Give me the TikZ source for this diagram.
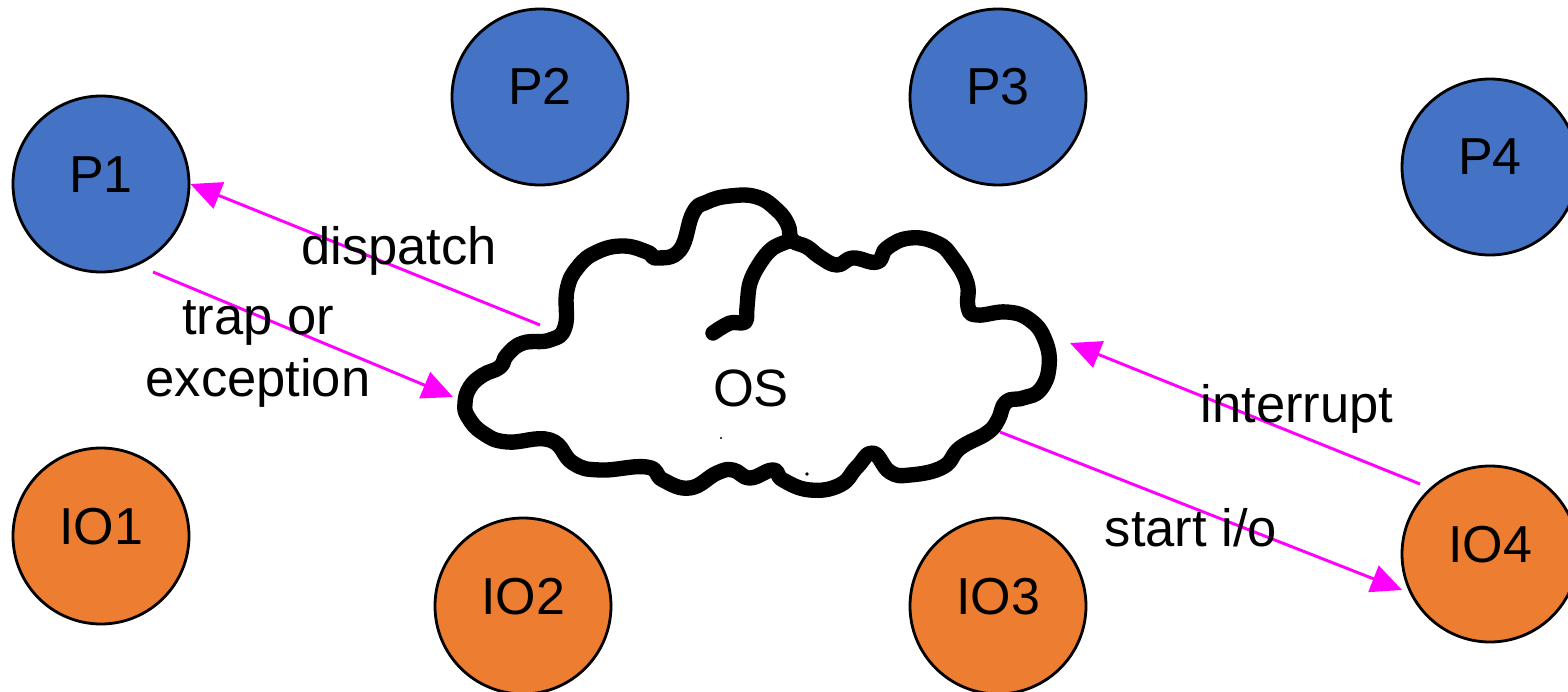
\documentclass[tikz,border=0pt]{standalone}
\usepackage{fontspec}
\setmainfont{Liberation Sans}
\usepackage{xcolor}
\usetikzlibrary{arrows.meta}
\definecolor{procblue}{HTML}{4472C4}
\definecolor{ioorange}{HTML}{ED7D31}
\definecolor{flowpink}{HTML}{FF00FF}
\tikzset{
  circ/.style={circle, draw=black, line width=2.1pt, minimum size=132pt, inner sep=0pt,
    font=\fontsize{39}{44}\selectfont, text height=24pt, text depth=12pt},
  proc/.style={circ, fill=procblue},
  iodev/.style={circ, fill=ioorange},
  flow/.style={-{Triangle[length=23pt,width=21pt]}, flowpink, line width=2.2pt},
  lbl/.style={font=\fontsize{39.4}{47}\selectfont, align=center, inner sep=0pt},
  cloudline/.style={line width=11.5pt, line join=round, line cap=round}
}

\begin{document}
\begin{tikzpicture}[x=0.75pt, y=-0.75pt]
  \useasboundingbox (0,0) rectangle (1568,692);
  % Cloud
  \draw[cloudline] plot[smooth cycle, tension=0.75] coordinates {
    (465,403) (470,387) (483,375) (500,367) (507,355) (523,343) (550,340) (565,327)
    (567,290) (578,267) (597,252) (623,246) (647,252) (657,258) (680,250)
    (693,213) (707,202) (730,196) (757,197) (777,210) (788,225) (792,240)
    (807,247) (820,257) (837,265) (853,258) (877,262) (887,248) (910,238) (937,243)
    (953,258) (967,283) (968,307) (977,315) (1007,312) (1030,320) (1045,340) (1049,367)
    (1040,390) (1023,398) (1006,402) (998,420) (987,433) (960,448) (943,467) (910,475)
    (890,472) (873,453) (857,467) (840,485) (810,490) (783,480) (773,470) (750,478)
    (733,470) (717,473) (690,488) (663,480) (647,467) (600,470) (573,463) (550,440)
    (507,442) (483,433) (468,417)};
  \draw[cloudline] plot[smooth, tension=0.6] coordinates {
    (792,240) (773,248) (760,263) (750,283) (747,307) (745,322) (730,323) (713,333)};
  \fill (721,438) circle (0.8pt);
  \fill (807,474) circle (1.4pt);
  % Processes
  \node[proc] (p1) at (101,184) {P1};
  \node[proc] (p2) at (540,97) {P2};
  \node[proc] (p3) at (998,97) {P3};
  \node[proc] (p4) at (1490,167) {P4};
  % IO devices
  \node[iodev] (io1) at (101,536) {IO1};
  \node[iodev] (io2) at (523,606) {IO2};
  \node[iodev] (io3) at (998,606) {IO3};
  \node[iodev] (io4) at (1490,554) {IO4};
  % Free ends
  \coordinate (dispatchfrom) at (540,325);
  \coordinate (trapfrom) at (153,272);
  \coordinate (trapto) at (453,397);
  \coordinate (intfrom) at (1420,484);
  \coordinate (intto) at (1070,343);
  \coordinate (startfrom) at (1000,432);
  \coordinate (startto) at (1402,590);
  % Flows
  \draw[flow] (dispatchfrom) -- (p1.east);
  \draw[flow] (trapfrom) -- (trapto);
  \draw[flow] (intfrom) -- (intto);
  \draw[flow] (startfrom) -- (startto);
  % Labels
  \node[lbl] (os) at (751,388) {OS};
  \node[lbl] (dispatch) at (399,251) {dispatch};
  \node[lbl] (trap) at (258,354) {trap or\\exception};
  \node[lbl] (interrupt) at (1297,409) {interrupt};
  \node[lbl] (starto) at (1191,528) {start i/o};
\end{tikzpicture}
\end{document}
